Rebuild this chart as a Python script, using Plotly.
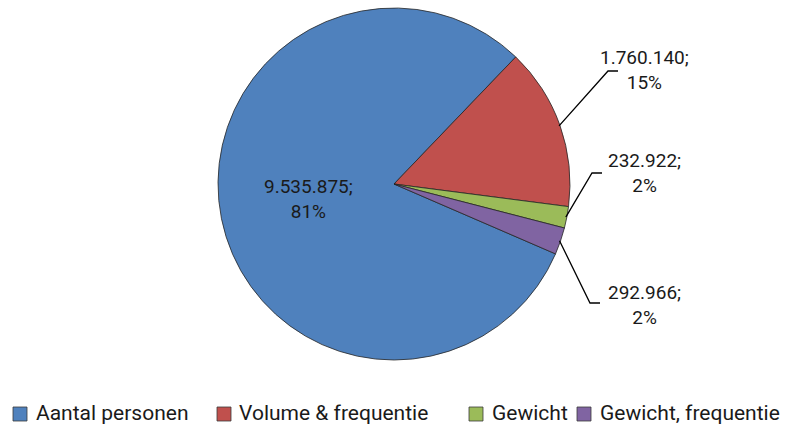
import math
import plotly.graph_objects as go

# Categories and counts
categories = ["Aantal personen", "Volume & frequentie", "Gewicht", "Gewicht, frequentie"]
values = [9535875, 1760140, 232922, 292966]
colors = ["#4F81BD", "#C0504D", "#9BBB59", "#8064A2"]

W, H = 795, 426
CX, CY, R = 394, 184, 175          # visible pie centre and radius, px
R_DOMAIN = 176                      # plotly draws the disc slightly inside its domain
ROTATION = 113.4                    # start angle of first slice, deg clockwise from 12 o'clock

FONT = "Roboto, 'DejaVu Sans', sans-serif"
TEXT_COLOR = "#1a1a1a"


def px(x, y):
    """pixel position -> paper coordinates (margins are zero)."""
    return x / W, 1 - y / H


def nl_number(v):
    return f"{v:,}".replace(",", ".")


total = sum(values)
shares = [v / total for v in values]
label_texts = [f"{nl_number(v)};<br>{round(s * 100):.0f}%" for v, s in zip(values, shares)]

x0, y1 = px(CX - R_DOMAIN, CY - R_DOMAIN)
x1, y0 = px(CX + R_DOMAIN, CY + R_DOMAIN)

fig = go.Figure(
    go.Pie(
        labels=categories,
        values=values,
        sort=False,
        direction="clockwise",
        rotation=ROTATION,
        marker=dict(colors=colors, line=dict(color="#262626", width=0.8)),
        textinfo="none",
        hoverinfo="label+value+percent",
        domain=dict(x=[x0, x1], y=[y0, y1]),
        showlegend=False,
    )
)

# mid-angle point on the rim of each slice
rim_points = []
cum = 0.0
for s in shares:
    theta = math.radians(ROTATION + 360 * (cum + s / 2))
    rim_points.append((CX + R * math.sin(theta), CY - R * math.cos(theta)))
    cum += s

# label anchors (centre of text block) and leader-line elbows
label_pos = [(308, 199), (644, 70), (644, 173), (644, 305)]
elbows = [None, ((608, 71), (618, 71)), ((592, 173), (602, 173)), ((590, 303), (600, 303))]

annotations = []
shapes = []
for i, (txt, (lx, ly)) in enumerate(zip(label_texts, label_pos)):
    ax, ay = px(lx, ly)
    annotations.append(
        dict(
            x=ax, y=ay, xref="paper", yref="paper",
            text=txt, showarrow=False, align="center",
            xanchor="center", yanchor="middle",
            font=dict(family=FONT, size=19, color=TEXT_COLOR),
        )
    )
    if elbows[i] is not None:
        (ex, ey), (hx, hy) = elbows[i]
        pts = [px(*rim_points[i]), px(ex, ey), px(hx, hy)]
        path = "M{},{} L{},{} L{},{}".format(*[c for p in pts for c in p])
        shapes.append(
            dict(type="path", path=path, xref="paper", yref="paper",
                 line=dict(color="#000000", width=1.3))
        )

# legend row along the bottom: swatch + category name
legend_swatch_x = [13, 217, 469, 577]
legend_text_x = [34, 237, 490, 598]
LEG_Y, SW = 414, 14
for name, col, sx, tx in zip(categories, colors, legend_swatch_x, legend_text_x):
    ax0, ay0 = px(sx, LEG_Y + SW / 2)
    ax1, ay1 = px(sx + SW, LEG_Y - SW / 2)
    shapes.append(
        dict(type="rect", xref="paper", yref="paper",
             x0=ax0, y0=ay0, x1=ax1, y1=ay1,
             fillcolor=col, line=dict(color="#3a3a3a", width=0.8))
    )
    tx_p, ty_p = px(tx, LEG_Y - 1)
    annotations.append(
        dict(
            x=tx_p, y=ty_p, xref="paper", yref="paper",
            text=name, showarrow=False, align="left",
            xanchor="left", yanchor="middle",
            font=dict(family=FONT, size=21, color=TEXT_COLOR),
        )
    )

fig.update_layout(
    width=W, height=H,
    margin=dict(l=0, r=0, t=0, b=0),
    paper_bgcolor="white",
    plot_bgcolor="white",
    annotations=annotations,
    shapes=shapes,
    showlegend=False,
)

fig.write_html("out.html")
